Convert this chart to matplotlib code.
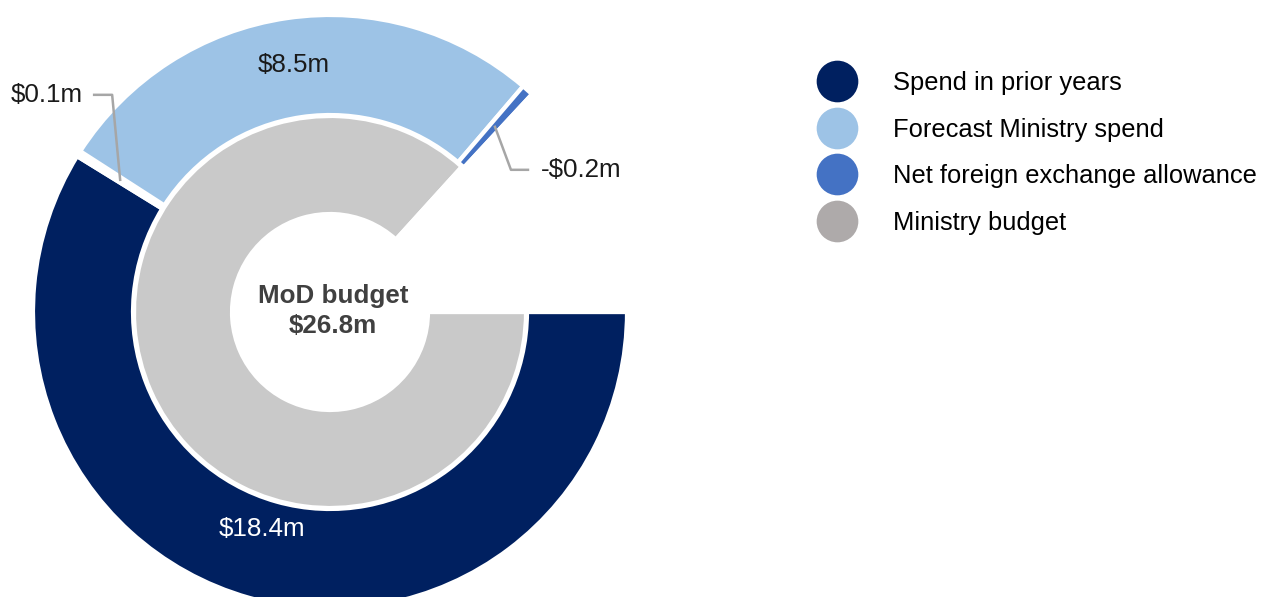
import numpy as np
import matplotlib.pyplot as plt
from matplotlib.lines import Line2D

plt.rcParams['font.family'] = ['Liberation Sans', 'DejaVu Sans']

# data
outer_names  = ['Spend in prior years', 'Other', 'Forecast Ministry spend', 'Net foreign exchange allowance']
outer_values = [18.4, 0.1, 8.5, -0.2]            # $m
outer_labels = ['$18.4m', '$0.1m', '$8.5m', '-$0.2m']
outer_gap    = 4.1                               # blank part of the ring
inner_value  = 26.8                              # MoD budget
inner_gap    = 4.1

legend_names = ['Spend in prior years', 'Forecast Ministry spend',
                'Net foreign exchange allowance', 'Ministry budget']

navy  = '#002060'
light = '#9DC3E6'
mid   = '#4472C4'
grey  = '#C9C9C9'
legend_cols = [navy, light, mid, '#AEAAAA']

W, H = 1261, 597
fig = plt.figure(figsize=(W/100., H/100.), dpi=100)
ax = fig.add_axes([0, 0, 1, 1])

cx, cy = 330, H - 312
fs = 18.7

outer, _ = ax.pie([abs(v) for v in outer_values] + [outer_gap],
                  colors=[navy, 'white', light, mid, 'none'],
                  startangle=0, counterclock=False, center=(cx, cy), radius=297,
                  wedgeprops=dict(width=100, edgecolor='white', linewidth=3))
inner, _ = ax.pie([inner_value, inner_gap], colors=[grey, 'none'],
                  startangle=0, counterclock=False, center=(cx, cy), radius=196,
                  wedgeprops=dict(width=98, edgecolor='white', linewidth=3))

ax.set_xlim(0, W)
ax.set_ylim(0, H)
ax.axis('off')


def pt(w, r, shift=0.):
    a = np.deg2rad((w.theta1 + w.theta2) / 2. + shift)
    return cx + r*np.cos(a), cy + r*np.sin(a)

txt = dict(fontsize=fs, color='#1a1a1a')

# labels inside the ring
x, y = pt(outer[0], 227, -1.5)
ax.text(x, y, outer_labels[0], ha='center', va='center', fontsize=fs, color='white')
x, y = pt(outer[2], 250)
ax.text(x, y, outer_labels[2], ha='center', va='center', **txt)

# leader lines for the small slices
x, y = pt(outer[1], 248)
ax.plot([x, x-8, x-26], [y, y+85, y+85], color='#A6A6A6', lw=1.8)
ax.text(x-37, y+85, outer_labels[1], ha='right', va='center', **txt)

x, y = pt(outer[3], 248)
ax.plot([x, x+16, x+33], [y, y-43, y-43], color='#A6A6A6', lw=1.8)
ax.text(x+46, y-43, outer_labels[3], ha='left', va='center', **txt)

ax.text(cx+3, cy+1, 'MoD budget\n$26.8m', ha='center', va='center', fontsize=fs,
        fontweight='bold', color='#404040', linespacing=1.35)

handles = [Line2D([], [], ls='', marker='o', markersize=30, markerfacecolor=c,
                  markeredgecolor='none') for c in legend_cols]
ax.legend(handles, legend_names, loc='upper left', bbox_to_anchor=(801./W, 1 - 61./H),
          frameon=False, fontsize=18.4, handlelength=2.0, handletextpad=1.2,
          labelspacing=0.88, borderaxespad=0)

fig.savefig('out.png', dpi=100)
